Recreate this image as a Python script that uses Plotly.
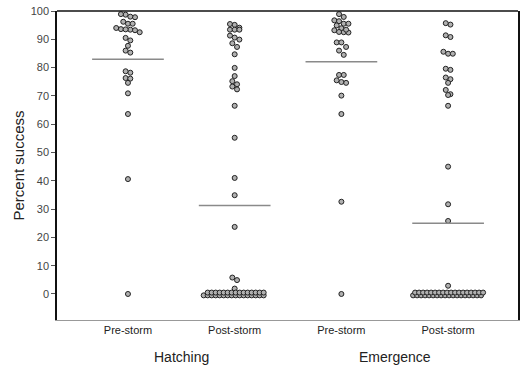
import math
import numpy as np
import plotly.graph_objects as go

# ---------------- data ----------------
categories = ["Pre-storm", "Post-storm", "Pre-storm", "Post-storm"]
groups = ["Hatching", "Emergence"]
y_tick_vals = [0, 10, 20, 30, 40, 50, 60, 70, 80, 90, 100]

hatch_pre = [98.7, 97.8, 98.0, 98.9, 95.5, 95.5, 96.2, 93.6, 93.4, 92.5, 93.2,
             93.5, 94.0, 90.5, 89.6, 87.7, 86.0, 85.3, 78.2, 78.7, 76.3, 76.1,
             74.6, 70.9, 63.6, 40.6, 0.0]
hatch_post = [95.4, 95.1, 94.1, 93.4, 93.4, 93.4, 91.3, 89.9, 90.6, 88.6, 87.3,
              84.7, 79.9, 77.0, 75.2, 74.1, 73.3, 72.3, 66.5, 55.2, 41.0, 34.9,
              23.7, 4.9, 5.8, 1.9,
              0, 0, 0, 0, 0, 0, 0, 0, 0, 0, 0, 0, 0, 0, 0, 0,
              0, 0, 0, 0, 0, 0, 0, 0, 0, 0, 0, 0, 0, 0, 0]
emerg_pre = [98.9, 97.9, 96.7, 96.4, 95.5, 94.9, 95.5, 93.9, 93.2, 92.5, 92.4,
             92.6, 93.4, 88.9, 88.9, 87.3, 86.0, 84.5, 77.4, 77.4, 75.5, 74.6,
             74.9, 70.1, 63.6, 32.6, 0.0]
emerg_post = [95.2, 95.7, 91.4, 90.8, 85.6, 84.9, 84.9, 79.6, 79.2, 75.9, 76.5,
              74.6, 72.1, 70.6, 70.3, 66.5, 45.0, 31.7, 25.8, 2.9,
              0, 0, 0, 0, 0, 0, 0, 0, 0, 0, 0, 0, 0, 0, 0, 0, 0, 0,
              0, 0, 0, 0, 0, 0, 0, 0, 0, 0, 0, 0, 0, 0, 0, 0, 0, 0]
series = [hatch_pre, hatch_post, emerg_pre, emerg_post]

# ---------------- layout constants ----------------
W, H = 520, 365
margin = dict(l=57, r=2, t=11, b=45)
x_range = [0.335, 4.655]
y_range = [-9.2, 100]
px_x = (W - margin["l"] - margin["r"]) / (x_range[1] - x_range[0])
px_y = (H - margin["t"] - margin["b"]) / (y_range[1] - y_range[0])
mean_half_width = 0.336
FONT = "Liberation Sans, Arial, sans-serif"


def dot_layout(values, bin_w=1.7, step_px=4.7, max_row=18,
               cluster_step_px=4.0, row_gap_px=2.8):
    """Binned dot-plot layout (like SPSS): returns x offsets and y offsets
    (data units).  Bins are built greedily from the top; large bins wrap
    into several tightly stacked rows."""
    n = len(values)
    order = sorted(range(n), key=lambda i: -values[i])
    bins, cur, start = [], [], None
    for i in order:
        if start is None or values[i] <= start - bin_w:
            if cur:
                bins.append(cur)
            cur, start = [i], values[i]
        else:
            cur.append(i)
    bins.append(cur)
    dx = np.zeros(n)
    dy = np.zeros(n)
    for b in bins:
        nrows = math.ceil(len(b) / max_row)
        s = step_px if nrows == 1 else cluster_step_px
        per = math.ceil(len(b) / nrows)
        for r in range(nrows):
            chunk = b[r * per:(r + 1) * per]
            yoff = (r - (nrows - 1) / 2) * row_gap_px
            xsh = 0.0 if nrows == 1 else (0.25 if r % 2 else -0.25) * s
            for k, i in enumerate(chunk):
                dx[i] = ((k - (len(chunk) - 1) / 2) * s + xsh) / px_x
                dy[i] = yoff / px_y
    return dx, dy


fig = go.Figure()
for idx, vals in enumerate(series):
    pos = idx + 1
    dx, dy = dot_layout(vals)
    v = np.array(vals, dtype=float)
    fig.add_trace(go.Scatter(
        x=pos + dx, y=v + dy, mode="markers", customdata=v,
        marker=dict(symbol="circle", size=5, color="#b0b0b0",
                    line=dict(color="#222222", width=1)),
        showlegend=False, hovertemplate="%{customdata}<extra></extra>"))
    m = float(np.mean(v))
    fig.add_shape(type="line", xref="x", yref="y",
                  x0=pos - mean_half_width, x1=pos + mean_half_width,
                  y0=m, y1=m, line=dict(color="#8a8a8a", width=1.5))

# top border (black) of the box
fig.add_shape(type="line", xref="paper", yref="paper", x0=0, x1=1, y0=1, y1=1,
              line=dict(color="#111111", width=1.5))

for g_i, g in enumerate(groups):
    fig.add_annotation(x=1.5 + 2 * g_i, y=0, xref="x", yref="paper",
                       text=g, showarrow=False, yanchor="top", yshift=-27,
                       font=dict(family=FONT, size=14, color="#222222"))

fig.update_layout(
    width=W, height=H, margin=margin,
    paper_bgcolor="white", plot_bgcolor="white",
    font=dict(family=FONT, color="#333333"),
    xaxis=dict(range=x_range, tickvals=[1, 2, 3, 4], ticktext=categories,
               showgrid=False, zeroline=False, showline=True, automargin=False,
               linecolor="#999999", linewidth=1, ticks="",
               tickfont=dict(size=11, color="#222222")),
    yaxis=dict(range=y_range, tickvals=y_tick_vals, showgrid=False,
               zeroline=False, showline=True, linecolor="#111111",
               linewidth=1.5, mirror=True, ticks="outside", ticklen=4,
               tickcolor="#555555", automargin=False,
               tickfont=dict(size=11, color="#444444"),
               title=dict(text="Percent success", standoff=2,
                          font=dict(size=15, color="#222222"))),
)

fig.write_html("out.html",
               config={"displayModeBar": False},
               post_script="document.body.style.margin='0';"
                           "document.body.style.padding='0';")
